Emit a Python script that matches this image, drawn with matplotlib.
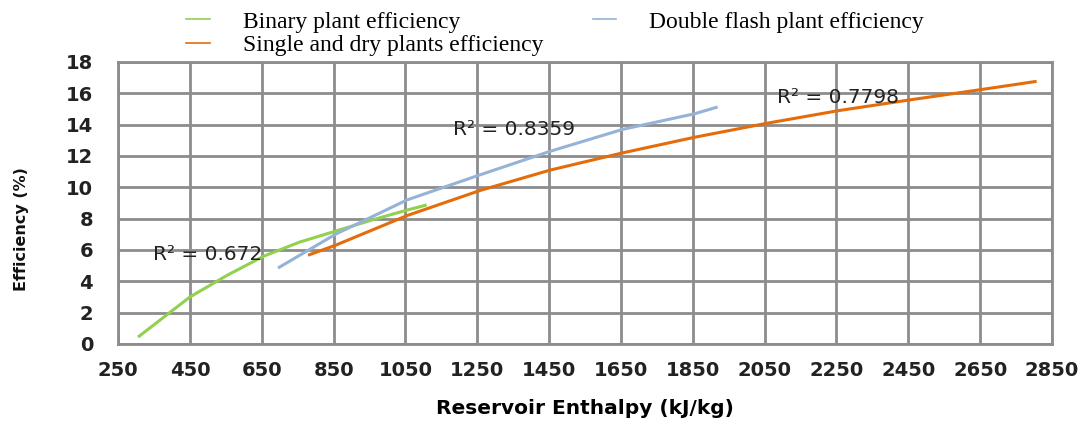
import numpy as np
import matplotlib.pyplot as plt

# values (trendlines)
binary_h = [309, 450, 555, 655, 755, 855, 955, 1055, 1105]
binary_eff = [0.5, 3.0, 4.4, 5.6, 6.5, 7.2, 7.9, 8.55, 8.85]

double_h = [699, 855, 1055, 1258, 1453, 1655, 1856, 1915]
double_eff = [4.9, 7.0, 9.2, 10.8, 12.3, 13.7, 14.7, 15.1]

single_h = [783, 855, 1055, 1258, 1453, 1655, 1856, 2059, 2257, 2460, 2656, 2803]
single_eff = [5.7, 6.3, 8.2, 9.8, 11.1, 12.2, 13.2, 14.1, 14.9, 15.6, 16.25, 16.75]

r2_labels = ["R\u00b2 = 0.672", "R\u00b2 = 0.8359", "R\u00b2 = 0.7798"]
r2_pos = [(500, 5.74), (1352, 13.72), (2253, 15.76)]

x_ticks = np.arange(250, 2851, 200)
y_ticks = np.arange(0, 19, 2)

fig = plt.figure(figsize=(10.86, 4.26), dpi=100)
ax = fig.add_axes([0.1087, 0.1925, 0.86, 0.662])

ax.plot(binary_h, binary_eff, color="#92D050", lw=2.2, label="Binary plant efficiency")
ax.plot(double_h, double_eff, color="#95B3D7", lw=2.2, label="Double flash plant efficiency")
ax.plot(single_h, single_eff, color="#E46C0A", lw=2.2, label="Single and dry plants efficiency")

for txt, (xx, yy) in zip(r2_labels, r2_pos):
    ax.text(xx, yy, txt, fontsize=14.5, color="#222222", ha="center", va="center")

ax.set_xlim(250, 2850)
ax.set_ylim(0, 18)
ax.set_xticks(x_ticks)
ax.set_yticks(y_ticks)
ax.grid(True, color="#8c8c8c", lw=2)
ax.set_axisbelow(True)
for s in ax.spines.values():
    s.set_color("#8c8c8c")
    s.set_linewidth(2)
ax.tick_params(length=0, labelsize=14, labelcolor="#222222")
ax.tick_params(axis="x", pad=12)
ax.tick_params(axis="y", pad=18)
for lab in ax.get_xticklabels() + ax.get_yticklabels():
    lab.set_fontweight("semibold")

ax.set_xlabel("Reservoir Enthalpy (kJ/kg)", fontsize=14.5, fontweight="bold", labelpad=14)
fig.text(22 / 1086, 1 - 229 / 426, "Efficiency (%)", fontsize=11.5, fontweight="bold",
         rotation=90, ha="center", va="center", color="#111111")

handles, labels = ax.get_legend_handles_labels()
order = [0, 2, 1]
leg = fig.legend([handles[i] for i in order], [labels[i] for i in order],
                 loc="upper left", bbox_to_anchor=(186 / 1086, 1 - 11 / 426), ncol=2,
                 frameon=False, borderaxespad=0, borderpad=0,
                 prop={"family": "Liberation Serif", "size": 17},
                 handlelength=1.0, handletextpad=1.4, columnspacing=2.1, labelspacing=0.1)
for h in leg.get_lines():
    h.set_linewidth(1.2)

fig.savefig("out.png", dpi=100)
